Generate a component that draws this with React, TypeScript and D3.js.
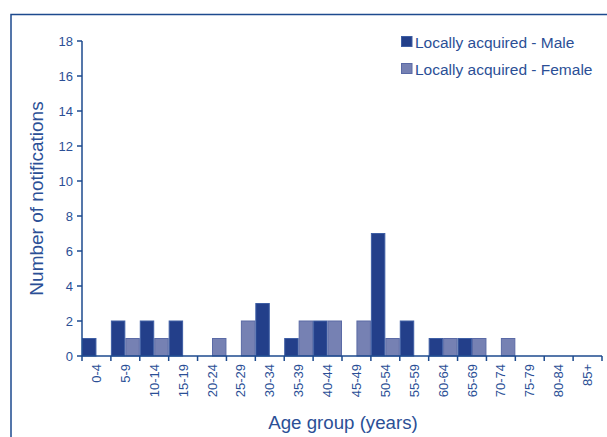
import React from "react";
import * as d3 from "d3";

const categories = ["0-4","5-9","10-14","15-19","20-24","25-29","30-34","35-39","40-44","45-49","50-54","55-59","60-64","65-69","70-74","75-79","80-84","85+"];
const maleValues = [1,2,2,2,0,0,3,1,2,0,7,2,1,1,0,0,0,0];
const femaleValues = [0,1,1,0,1,2,0,2,2,2,1,0,1,1,1,0,0,0];
const yTicks = [0,2,4,6,8,10,12,14,16,18];
const seriesNames = ["Locally acquired - Male", "Locally acquired - Female"];

const W = 607, H = 437;
const left = 82, right = 602, top = 41, bottom = 356;
const axisColor = "#1d4a8e";
const textColor = "#2b4f96";
const maleFill = "#233f8a";
const maleStroke = "#3e5ea4";
const femaleFill = "#7681b3";
const femaleStroke = "#5a6aa6";
const font = "'Liberation Sans', Arial, sans-serif";

export default function App() {
  const x = d3.scaleBand<string>().domain(categories).range([left, right]).padding(0);
  const y = d3.scaleLinear().domain([0, 18]).range([bottom, top]);
  const bw = x.bandwidth() / 2;
  return (
    <svg width={W} height={H} style={{ position: "absolute", left: 0, top: 0 }} fontFamily={font}>
      <rect x={0} y={0} width={W} height={H} fill="#fff" />
      <path d={`M11,${H} V14.5 H${W}`} fill="none" stroke={axisColor} strokeWidth={1.5} />
      {categories.map((c, i) => (
        <g key={c}>
          {maleValues[i] > 0 && (
            <rect x={x(c)! + 0.5} y={y(maleValues[i])} width={bw - 1} height={bottom - y(maleValues[i])}
              fill={maleFill} stroke={maleStroke} strokeWidth={1} />
          )}
          {femaleValues[i] > 0 && (
            <rect x={x(c)! + bw + 0.5} y={y(femaleValues[i])} width={bw - 1} height={bottom - y(femaleValues[i])}
              fill={femaleFill} stroke={femaleStroke} strokeWidth={1} />
          )}
        </g>
      ))}
      {/* y axis */}
      <line x1={left} x2={left} y1={top} y2={bottom} stroke={axisColor} strokeWidth={1.5} />
      {yTicks.map(t => (
        <g key={t}>
          <line x1={left - 5} x2={left} y1={y(t)} y2={y(t)} stroke={axisColor} strokeWidth={1.5} />
          <text x={left - 9} y={y(t) + 4.5} textAnchor="end" fontSize={13} fill={textColor}>{t}</text>
        </g>
      ))}
      {/* x axis */}
      <line x1={left} x2={right} y1={bottom} y2={bottom} stroke={axisColor} strokeWidth={1.5} />
      {[...categories.map(c => x(c)!), right].map((px, i) => (
        <line key={i} x1={px} x2={px} y1={bottom} y2={bottom + 5} stroke={axisColor} strokeWidth={1.5} />
      ))}
      {categories.map(c => {
        const cx = x(c)! + x.bandwidth() / 2;
        return (
          <text key={c} transform={`translate(${cx + 4.5},${bottom + 8}) rotate(-90)`} textAnchor="end"
            fontSize={13} fill={textColor}>{c}</text>
        );
      })}
      <text transform={`translate(43,${(top + bottom) / 2}) rotate(-90)`} textAnchor="middle" fontSize={19} fill={textColor}>
        Number of notifications
      </text>
      <text x={(left + right) / 2 + 1} y={429} textAnchor="middle" fontSize={18.7} fill={textColor}>Age group (years)</text>
      {/* legend */}
      {seriesNames.map((n, i) => (
        <g key={n} transform={`translate(401,${36 + i * 27})`}>
          <rect x={0.5} y={0.5} width={10.5} height={10} fill={i === 0 ? maleFill : femaleFill} stroke={i === 0 ? maleStroke : femaleStroke} />
          <text x={14} y={11.5} fontSize={15.5} fill={textColor}>{n}</text>
        </g>
      ))}
    </svg>
  );
}
